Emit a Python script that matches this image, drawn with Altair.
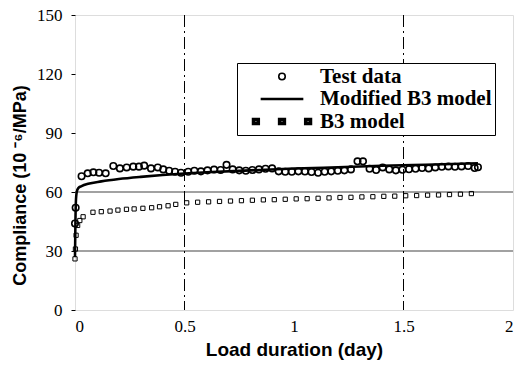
import altair as alt
import pandas as pd

# Test data (circles)
test_x = [0.000, 0.003, 0.030, 0.058, 0.084, 0.110, 0.140, 0.175, 0.205, 0.236,
          0.266, 0.292, 0.316, 0.347, 0.378, 0.403, 0.430, 0.457, 0.484, 0.517,
          0.545, 0.575, 0.605, 0.635, 0.665, 0.692, 0.720, 0.750, 0.780, 0.810,
          0.840, 0.870, 0.900, 0.930, 0.960, 0.990, 1.020, 1.050, 1.080, 1.110,
          1.140, 1.170, 1.200, 1.230, 1.260, 1.290, 1.315, 1.345, 1.375, 1.405,
          1.435, 1.465, 1.495, 1.525, 1.555, 1.585, 1.615, 1.645, 1.675, 1.705,
          1.735, 1.765, 1.795, 1.825, 1.840]
test_y = [44.0, 52.0, 68.0, 69.5, 70.0, 69.8, 69.5, 73.2, 72.0, 72.5,
          72.9, 72.9, 73.4, 72.0, 72.5, 71.5, 70.8, 70.3, 69.8, 70.3,
          70.8, 70.5, 71.0, 71.4, 71.2, 73.8, 71.5, 71.0, 70.8, 71.2,
          71.5, 71.8, 72.0, 70.5, 70.3, 70.3, 70.5, 70.4, 70.2, 69.8,
          70.3, 70.5, 70.8, 71.0, 71.5, 75.6, 75.6, 71.8, 71.2, 72.5,
          71.5, 71.0, 71.3, 71.6, 71.8, 72.2, 72.0, 72.5, 72.8, 73.0,
          72.8, 73.0, 73.2, 72.2, 72.6]

# Modified B3 model (thick line)
mod_x = [0.000, 0.002, 0.004, 0.008, 0.015, 0.030, 0.060, 0.120, 0.200, 0.300,
         0.400, 0.500, 0.600, 0.800, 1.000, 1.200, 1.400, 1.600, 1.840]
mod_y = [27.0, 45.0, 55.0, 60.0, 62.0, 63.0, 64.2, 65.4, 66.6, 67.7,
         68.6, 69.4, 70.0, 71.0, 71.9, 72.6, 73.3, 73.9, 74.6]

# B3 model (small squares)
b3_x = [0.000, 0.002, 0.005, 0.012, 0.022, 0.037, 0.082, 0.120, 0.160, 0.196,
        0.235, 0.270, 0.310, 0.350, 0.386, 0.425, 0.460, 0.510, 0.560, 0.610,
        0.660, 0.710, 0.760, 0.810, 0.860, 0.910, 0.960, 1.010, 1.060, 1.110,
        1.160, 1.210, 1.260, 1.310, 1.360, 1.410, 1.460, 1.510, 1.560, 1.610,
        1.660, 1.710, 1.760, 1.810]
b3_y = [26.0, 31.0, 38.0, 43.0, 45.5, 47.4, 49.7, 50.0, 50.3, 50.8,
        51.2, 51.4, 51.7, 52.0, 52.5, 53.0, 53.7, 54.5, 54.8, 55.0,
        55.2, 55.4, 55.6, 55.8, 56.0, 56.1, 56.3, 56.5, 56.6, 56.8,
        57.0, 57.2, 57.3, 57.5, 57.6, 57.8, 57.9, 58.1, 58.2, 58.4,
        58.5, 58.7, 58.9, 59.2]

series = ["Test data", "Modified B3 model", "B3 model"]
x_ticks = [0, 0.5, 1, 1.5, 2]
y_ticks = [0, 30, 60, 90, 120, 150]
h_grid = [30, 60]
v_grid = [0.5, 1.5]

df_test = pd.DataFrame({"t": test_x, "c": test_y, "s": series[0]})
df_mod = pd.DataFrame({"t": mod_x, "c": mod_y, "s": series[1]})
df_b3 = pd.DataFrame({"t": b3_x, "c": b3_y, "s": series[2]})

three_sq = ("M-0.95,-0.065L-0.79,-0.065L-0.79,0.065L-0.95,0.065Z "
            "M-0.08,-0.065L0.08,-0.065L0.08,0.065L-0.08,0.065Z "
            "M0.79,-0.065L0.95,-0.065L0.95,0.065L0.79,0.065Z")

xs = alt.Scale(domain=[0, 2], nice=False)
ys = alt.Scale(domain=[0, 150], nice=False)

legend = alt.Legend(
    orient="none", legendX=162, legendY=48, fillColor="white",
    strokeColor="black", padding=3, symbolOffset=10, labelOffset=6,
    labelFont="Liberation Serif", labelFontWeight="bold", labelFontSize=21,
    labelColor="black", clipHeight=21, rowPadding=0.5, labelLimit=400,
)

color = alt.Color("s:N", scale=alt.Scale(domain=series, range=["black"] * 3),
                  legend=legend, title=None)
shape = alt.Shape("s:N", scale=alt.Scale(domain=series, range=["circle", "stroke", three_sq]),
                  legend=legend, title=None)
size = alt.Size("s:N", scale=alt.Scale(domain=series, range=[42, 3600, 3600]),
                legend=legend, title=None)
sw = alt.StrokeWidth("s:N", scale=alt.Scale(domain=series, range=[1.6, 3.5, 1.0]),
                     legend=legend, title=None)

x_title = "Load duration (day)"
y_title = "Compliance (10 ⁻⁶/MPa)"
x_axis = alt.Axis(values=x_ticks, format="~g", ticks=False, labelPadding=8,
                  labelFont="Liberation Serif", labelFontSize=17, labelColor="black",
                  titleFont="Liberation Sans", titleFontWeight="bold", titleColor="black",
                  titlePadding=6, titleFontSize=19, grid=False, domain=False)
y_axis = alt.Axis(values=y_ticks, tickSize=4, tickColor="black", labelPadding=9,
                  labelFont="Liberation Serif", labelFontSize=17, labelColor="black",
                  titleFont="Liberation Sans", titleFontWeight="bold", titleColor="black",
                  titleFontSize=18, grid=False, domain=False,
                  titleX=-55, titleY=170, titleAngle=270, titleAlign="center",
                  titleBaseline="middle")

X = alt.X("t:Q", scale=xs, title=x_title, axis=x_axis)
Y = alt.Y("c:Q", scale=ys, title=y_title, axis=y_axis)

hgrid = alt.Chart(pd.DataFrame({"g": h_grid})).mark_rule(color="#444", strokeWidth=1.2).encode(
    y=alt.Y("g:Q", scale=ys, title=y_title, axis=y_axis))
vgrid = alt.Chart(pd.DataFrame({"g": v_grid})).mark_rule(
    color="black", strokeWidth=1, strokeDash=[12, 4, 2, 4]).encode(
    x=alt.X("g:Q", scale=xs, title=x_title, axis=x_axis))

b3 = alt.Chart(df_b3).mark_point(filled=False, opacity=1).encode(
    x=X, y=Y, color=color, shape=alt.value("square"), size=alt.value(18),
    strokeWidth=alt.value(1.0))
mod = alt.Chart(df_mod).mark_line(interpolate="monotone").encode(
    x=X, y=Y, color=color, strokeWidth=sw)
test = alt.Chart(df_test).mark_point(filled=False, opacity=1).encode(
    x=X, y=Y, color=color, shape=shape, size=size, strokeWidth=sw)

chart = alt.layer(hgrid, vgrid, b3, mod, test).properties(
    width=438, height=295,
    padding={"left": 75, "top": 15, "right": 4, "bottom": 59},
    autosize=alt.AutoSizeParams(type="none"),
).configure_view(stroke="black", strokeWidth=1.6).configure(background="white")

chart.save("out.html", embed_options={"renderer": "svg", "actions": False})
